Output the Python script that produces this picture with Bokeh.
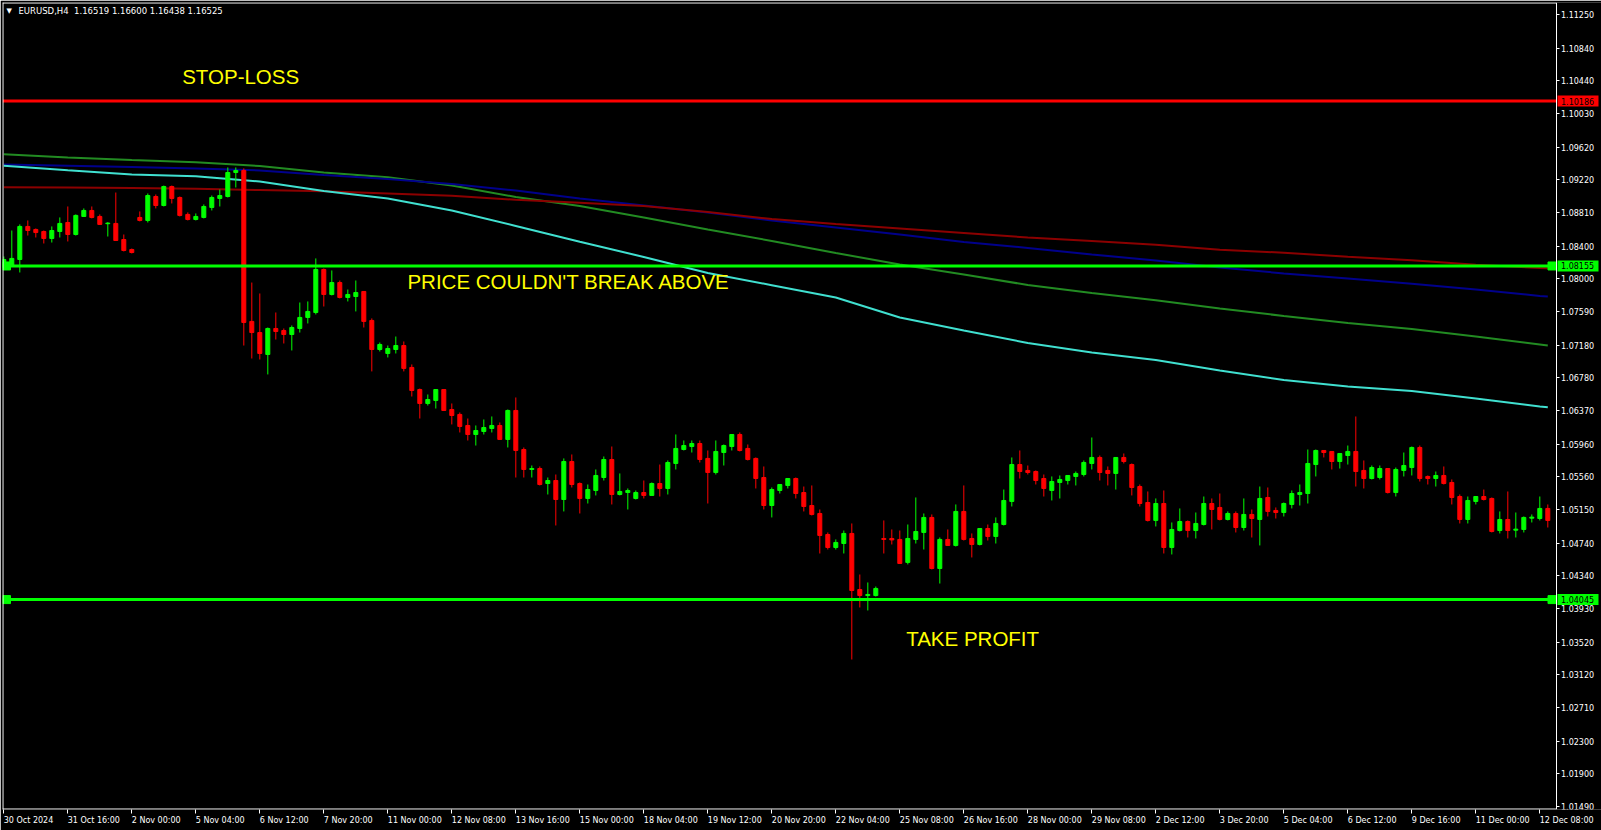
from bokeh.plotting import figure
from bokeh.models import (Span, Label, FixedTicker, Range1d, ColumnDataSource,
                          PrintfTickFormatter, LinearAxis)
from bokeh.core.properties import value
from bokeh.embed import file_html
from bokeh.resources import INLINE

# ---------------- data ----------------
chart_title = "EURUSD,H4\u00a0\u00a01.16519 1.16600 1.16438 1.16525"

open_ = [
    1.08137, 1.08161, 1.08235, 1.08642, 1.08605, 1.08580, 1.08494, 1.08580, 1.08691, 1.08543,
    1.08765, 1.08839, 1.08765, 1.08676, 1.08679, 1.08481, 1.08358, 1.08753, 1.08716, 1.09011,
    1.08900, 1.09134, 1.08999, 1.08790, 1.08728, 1.08753, 1.08876, 1.08987, 1.09011, 1.09307,
    1.09332, 1.07472, 1.07335, 1.07065, 1.07385, 1.07360, 1.07311, 1.07385, 1.07521, 1.07582,
    1.08112, 1.07804, 1.07951, 1.07767, 1.07779, 1.07841, 1.07484, 1.07126, 1.07077, 1.07126,
    1.07175, 1.06905, 1.06633, 1.06461, 1.06498, 1.06633, 1.06387, 1.06326, 1.06190, 1.06079,
    1.06116, 1.06153, 1.06190, 1.06018, 1.06375, 1.05894, 1.05648, 1.05660, 1.05475, 1.05512,
    1.05278, 1.05746, 1.05475, 1.05291, 1.05389, 1.05549, 1.05771, 1.05340, 1.05364, 1.05291,
    1.05364, 1.05328, 1.05475, 1.05414, 1.05722, 1.05894, 1.05931, 1.05968, 1.05784, 1.05611,
    1.05857, 1.05931, 1.06079, 1.05907, 1.05784, 1.05549, 1.05204, 1.05389, 1.05451, 1.05537,
    1.05364, 1.05204, 1.05106, 1.04847, 1.04687, 1.04736, 1.04860, 1.04169, 1.04095, 1.04095,
    1.04798, 1.04798, 1.04786, 1.04503, 1.04786, 1.04872, 1.05057, 1.04428, 1.04786, 1.04712,
    1.05131, 1.04798, 1.04724, 1.04921, 1.04823, 1.04970, 1.05254, 1.05709, 1.05636, 1.05623,
    1.05537, 1.05389, 1.05488, 1.05512, 1.05562, 1.05586, 1.05722, 1.05796, 1.05636, 1.05599,
    1.05796, 1.05709, 1.05438, 1.05241, 1.05020, 1.05229, 1.04687, 1.04896, 1.05007, 1.04896,
    1.04970, 1.05229, 1.05180, 1.05032, 1.05106, 1.04933, 1.05094, 1.05032, 1.05303, 1.05143,
    1.05118, 1.05217, 1.05340, 1.05352, 1.05709, 1.05882, 1.05870, 1.05746, 1.05820, 1.05870,
    1.05636, 1.05537, 1.05549, 1.05660, 1.05364, 1.05636, 1.05672, 1.05919, 1.05562, 1.05537,
    1.05574, 1.05488, 1.05315, 1.05032, 1.05254, 1.05315, 1.05291, 1.04896, 1.05032, 1.04900,
    1.04909, 1.05048, 1.05044, 1.05168]

high = [
    1.08272, 1.08592, 1.08667, 1.08716, 1.08617, 1.08592, 1.08642, 1.08753, 1.08888, 1.08790,
    1.08864, 1.08888, 1.08790, 1.08695, 1.09060, 1.08543, 1.08370, 1.08827, 1.09048, 1.09036,
    1.09146, 1.09146, 1.09011, 1.08815, 1.08802, 1.08913, 1.09023, 1.09097, 1.09369, 1.09369,
    1.09357, 1.07951, 1.07816, 1.07397, 1.07582, 1.07385, 1.07422, 1.07705, 1.07718, 1.08248,
    1.08124, 1.08100, 1.07976, 1.07865, 1.07976, 1.07841, 1.07509, 1.07212, 1.07175, 1.07286,
    1.07225, 1.06942, 1.06645, 1.06572, 1.06633, 1.06633, 1.06461, 1.06350, 1.06276, 1.06190,
    1.06264, 1.06301, 1.06227, 1.06387, 1.06535, 1.05919, 1.05697, 1.05685, 1.05549, 1.05586,
    1.05784, 1.05833, 1.05488, 1.05463, 1.05648, 1.05808, 1.05931, 1.05599, 1.05414, 1.05389,
    1.05512, 1.05488, 1.05709, 1.05759, 1.06079, 1.06005, 1.06005, 1.06005, 1.05882, 1.06005,
    1.05956, 1.06079, 1.06104, 1.05956, 1.05796, 1.05685, 1.05426, 1.05463, 1.05537, 1.05549,
    1.05438, 1.05451, 1.05155, 1.04872, 1.04786, 1.04896, 1.04983, 1.04354, 1.04256, 1.04206,
    1.05020, 1.04909, 1.04896, 1.04970, 1.05303, 1.05106, 1.05094, 1.04810, 1.04909, 1.05217,
    1.05451, 1.04860, 1.04921, 1.04970, 1.05057, 1.05401, 1.05796, 1.05882, 1.05697, 1.05636,
    1.05586, 1.05562, 1.05574, 1.05574, 1.05623, 1.05759, 1.06042, 1.05820, 1.05685, 1.05796,
    1.05845, 1.05722, 1.05463, 1.05377, 1.05291, 1.05389, 1.04995, 1.05168, 1.05020, 1.05118,
    1.05315, 1.05291, 1.05352, 1.05131, 1.05131, 1.05291, 1.05155, 1.05438, 1.05426, 1.05180,
    1.05241, 1.05389, 1.05463, 1.05894, 1.05894, 1.05882, 1.05870, 1.05845, 1.05943, 1.06301,
    1.05759, 1.05697, 1.05697, 1.05660, 1.05672, 1.05857, 1.05931, 1.05943, 1.05574, 1.05623,
    1.05685, 1.05525, 1.05340, 1.05315, 1.05315, 1.05401, 1.05303, 1.05131, 1.05377, 1.05118,
    1.05069, 1.05094, 1.05315, 1.05217]

low = [
    1.08124, 1.08149, 1.08075, 1.08530, 1.08506, 1.08432, 1.08444, 1.08506, 1.08457, 1.08530,
    1.08760, 1.08741, 1.08660, 1.08518, 1.08465, 1.08334, 1.08309, 1.08704, 1.08691, 1.08864,
    1.08888, 1.08925, 1.08765, 1.08716, 1.08716, 1.08741, 1.08839, 1.08888, 1.08999, 1.09122,
    1.07175, 1.07015, 1.07003, 1.06819, 1.07249, 1.07200, 1.07114, 1.07335, 1.07447, 1.07558,
    1.07656, 1.07792, 1.07755, 1.07718, 1.07595, 1.07397, 1.06856, 1.07102, 1.07028, 1.07077,
    1.06856, 1.06547, 1.06276, 1.06436, 1.06399, 1.06375, 1.06203, 1.06104, 1.06005, 1.05943,
    1.06079, 1.06104, 1.06018, 1.05919, 1.05549, 1.05549, 1.05549, 1.05451, 1.05340, 1.04958,
    1.05131, 1.05426, 1.05106, 1.05229, 1.05328, 1.05512, 1.05217, 1.05328, 1.05155, 1.05278,
    1.05291, 1.05328, 1.05315, 1.05340, 1.05648, 1.05882, 1.05857, 1.05734, 1.05229, 1.05586,
    1.05697, 1.05882, 1.05870, 1.05759, 1.05414, 1.05155, 1.05057, 1.05352, 1.05414, 1.05291,
    1.05131, 1.05081, 1.04613, 1.04662, 1.04662, 1.04613, 1.03307, 1.03948, 1.03911, 1.04083,
    1.04613, 1.04724, 1.04490, 1.04478, 1.04736, 1.04662, 1.04416, 1.04243, 1.04712, 1.04699,
    1.04773, 1.04564, 1.04712, 1.04773, 1.04736, 1.04958, 1.05192, 1.05537, 1.05586, 1.05463,
    1.05315, 1.05266, 1.05291, 1.05463, 1.05451, 1.05562, 1.05648, 1.05512, 1.05451, 1.05401,
    1.05722, 1.05328, 1.05192, 1.05007, 1.04946, 1.04613, 1.04601, 1.04884, 1.04810, 1.04798,
    1.04958, 1.04909, 1.05020, 1.05020, 1.04872, 1.04896, 1.04810, 1.04712, 1.05069, 1.05044,
    1.05069, 1.05168, 1.05204, 1.05229, 1.05562, 1.05796, 1.05648, 1.05660, 1.05709, 1.05438,
    1.05414, 1.05525, 1.05525, 1.05352, 1.05315, 1.05562, 1.05574, 1.05500, 1.05463, 1.05438,
    1.05463, 1.05217, 1.04983, 1.04983, 1.05217, 1.05266, 1.04872, 1.04860, 1.04798, 1.04810,
    1.04872, 1.04995, 1.05020, 1.04933]

close = [
    1.08235, 1.08248, 1.08642, 1.08592, 1.08567, 1.08494, 1.08592, 1.08679, 1.08543, 1.08778,
    1.08839, 1.08753, 1.08667, 1.08683, 1.08469, 1.08346, 1.08321, 1.08716, 1.09023, 1.08900,
    1.09134, 1.08987, 1.08778, 1.08728, 1.08765, 1.08888, 1.08999, 1.09023, 1.09307, 1.09332,
    1.07459, 1.07335, 1.07077, 1.07385, 1.07348, 1.07311, 1.07397, 1.07521, 1.07595, 1.08112,
    1.07804, 1.07951, 1.07767, 1.07804, 1.07828, 1.07472, 1.07126, 1.07188, 1.07138, 1.07175,
    1.06893, 1.06621, 1.06461, 1.06510, 1.06633, 1.06375, 1.06313, 1.06178, 1.06079, 1.06128,
    1.06165, 1.06190, 1.06018, 1.06375, 1.05882, 1.05648, 1.05660, 1.05463, 1.05512, 1.05278,
    1.05746, 1.05463, 1.05291, 1.05401, 1.05574, 1.05771, 1.05340, 1.05377, 1.05389, 1.05364,
    1.05328, 1.05475, 1.05414, 1.05734, 1.05907, 1.05943, 1.05968, 1.05771, 1.05611, 1.05870,
    1.05943, 1.06079, 1.05882, 1.05771, 1.05537, 1.05204, 1.05401, 1.05463, 1.05537, 1.05352,
    1.05192, 1.05094, 1.04835, 1.04687, 1.04749, 1.04860, 1.04157, 1.04095, 1.04108, 1.04182,
    1.04786, 1.04780, 1.04490, 1.04798, 1.04884, 1.05057, 1.04428, 1.04786, 1.04712, 1.05131,
    1.04786, 1.04724, 1.04921, 1.04823, 1.04983, 1.05266, 1.05709, 1.05623, 1.05611, 1.05512,
    1.05414, 1.05500, 1.05525, 1.05574, 1.05599, 1.05734, 1.05796, 1.05611, 1.05599, 1.05796,
    1.05746, 1.05426, 1.05229, 1.05020, 1.05229, 1.04687, 1.04909, 1.05007, 1.04896, 1.04983,
    1.05229, 1.05155, 1.05032, 1.05106, 1.04933, 1.05094, 1.05044, 1.05291, 1.05131, 1.05118,
    1.05229, 1.05352, 1.05364, 1.05722, 1.05882, 1.05857, 1.05746, 1.05845, 1.05870, 1.05623,
    1.05537, 1.05672, 1.05660, 1.05364, 1.05648, 1.05697, 1.05919, 1.05537, 1.05537, 1.05574,
    1.05475, 1.05303, 1.05032, 1.05266, 1.05315, 1.05278, 1.04884, 1.05032, 1.04896, 1.04913,
    1.05057, 1.05061, 1.05168, 1.05020]

# moving averages, read at these bar positions
ma_bars = [0, 8, 16, 24, 32, 40, 48, 56, 64, 72, 80, 88, 96, 104, 112, 120,
           128, 136, 144, 152, 160, 168, 176, 184, 192, 193]
ma_green = [1.09532, 1.09492, 1.09461, 1.09434, 1.09387, 1.09307, 1.09249, 1.09147, 1.09005,
            1.08894, 1.08753, 1.08605, 1.08463, 1.08315, 1.08174, 1.08050, 1.07921, 1.07822,
            1.07734, 1.07631, 1.07539, 1.07453, 1.07379, 1.07286, 1.07188, 1.07175]
ma_blue = [1.09405, 1.09389, 1.09375, 1.09356, 1.09332, 1.09276, 1.09227, 1.09165, 1.09085,
           1.08987, 1.08900, 1.08814, 1.08716, 1.08629, 1.08543, 1.08451, 1.08377, 1.08297,
           1.08223, 1.08137, 1.08063, 1.08001, 1.07936, 1.07866, 1.07786, 1.07779]
ma_turquoise = [1.09389, 1.09335, 1.09282, 1.09261, 1.09196, 1.09079, 1.08987, 1.08839, 1.08648,
                1.08453, 1.08266, 1.08069, 1.07918, 1.07767, 1.07521, 1.07360, 1.07206, 1.07089,
                1.06997, 1.06868, 1.06750, 1.06671, 1.06615, 1.06523, 1.06424, 1.06415]
ma_maroon = [1.09126, 1.09122, 1.09116, 1.09107, 1.09091, 1.09075, 1.09048, 1.09020, 1.08971,
             1.08934, 1.08894, 1.08820, 1.08734, 1.08672, 1.08617, 1.08562, 1.08506, 1.08463,
             1.08417, 1.08356, 1.08318, 1.08270, 1.08226, 1.08170, 1.08130, 1.08128]

# x axis (time) labels every 8 H4 bars
time_tick_bars = [0, 8, 16, 24, 32, 40, 48, 56, 64, 72, 80, 88, 96, 104, 112, 120,
                  128, 136, 144, 152, 160, 168, 176, 184, 192]
time_labels = ["30 Oct 2024", "31 Oct 16:00", "2 Nov 00:00", "5 Nov 04:00", "6 Nov 12:00",
               "7 Nov 20:00", "11 Nov 00:00", "12 Nov 08:00", "13 Nov 16:00", "15 Nov 00:00",
               "18 Nov 04:00", "19 Nov 12:00", "20 Nov 20:00", "22 Nov 04:00", "25 Nov 08:00",
               "26 Nov 16:00", "28 Nov 00:00", "29 Nov 08:00", "2 Dec 12:00", "3 Dec 20:00",
               "5 Dec 04:00", "6 Dec 12:00", "9 Dec 16:00", "11 Dec 00:00", "12 Dec 08:00"]

price_ticks = [1.11250, 1.10840, 1.10440, 1.10030, 1.09620, 1.09220, 1.08810, 1.08400,
               1.08000, 1.07590, 1.07180, 1.06780, 1.06370, 1.05960, 1.05560, 1.05150,
               1.04740, 1.04340, 1.03930, 1.03520, 1.03120, 1.02710, 1.02300, 1.01900, 1.01490]

stop_loss = 1.10186
resistance = 1.08155
take_profit = 1.04045

annotations = [
    ("STOP-LOSS", 22.3, 1.10490),
    ("PRICE COULDN'T BREAK ABOVE", 50.45, 1.07964),
    ("TAKE PROFIT", 112.8, 1.03566),
]

# ---------------- layout / style ----------------
W, H = 1601, 830
BORDER_L, BORDER_T, BORDER_R, BORDER_B = 2, 2, 0, 21
FRAME_W = W - BORDER_L - BORDER_R
FRAME_H = H - BORDER_T - BORDER_B
PX = 8.0                                  # pixels per bar
X_START = -0.1625
X_END = X_START + FRAME_W / PX
X_AXIS = X_START + 1553.5 / PX            # where the price axis line sits
Y_START, Y_END = 1.01459, 1.11401
PY = FRAME_H / (Y_END - Y_START)          # pixels per price unit

BULL = "#00ff00"
BEAR = "#ff0000"
WHITE = "#ffffff"
FONT = "DejaVu Sans"

p = figure(width=W, height=H, output_backend="svg", toolbar_location=None,
           x_range=Range1d(X_START, X_END), y_range=Range1d(Y_START, Y_END),
           y_axis_location=None,
           min_border_left=BORDER_L, min_border_top=BORDER_T,
           min_border_right=BORDER_R, min_border_bottom=BORDER_B,
           background_fill_color="#000000", border_fill_color="#000000",
           outline_line_color=None)
p.grid.visible = False

# time axis: tick marks at the bars ...
xa = p.xaxis[0]
xa.ticker = FixedTicker(ticks=time_tick_bars, minor_ticks=[])
xa.major_label_overrides = {b: "" for b in time_tick_bars}
xa.major_label_text_font_size = "0px"
xa.major_label_standoff = 0
xa.axis_line_color = None
xa.major_tick_line_color = WHITE
xa.major_tick_in = 0
xa.major_tick_out = 4
xa.minor_tick_line_color = None

# ... and labels that start at each tick (MT4 style, left aligned)
CHAR_EM = {**{d: 0.636 for d in "0123456789"}, " ": 0.318, ":": 0.337, "O": 0.787,
           "c": 0.550, "t": 0.392, "N": 0.748, "o": 0.612, "v": 0.592, "D": 0.770, "e": 0.615}


def text_width(s, size=8.0):
    return sum(CHAR_EM.get(ch, 0.6) for ch in s) * size


label_pos = [b + (text_width(t) / 2) / PX for b, t in zip(time_tick_bars, time_labels)]
xl = LinearAxis(ticker=FixedTicker(ticks=label_pos, minor_ticks=[]),
                major_label_overrides={pos: t for pos, t in zip(label_pos, time_labels)},
                axis_line_color=None, major_tick_line_color=None, minor_tick_line_color=None,
                major_tick_in=0, major_tick_out=0, major_label_standoff=2,
                major_label_text_color=WHITE, major_label_text_font=FONT,
                major_label_text_font_size="8px")
p.add_layout(xl, "below")

# price axis, drawn at the right edge of the chart area
ya = LinearAxis(fixed_location=X_AXIS,
                ticker=FixedTicker(ticks=price_ticks, minor_ticks=[]),
                formatter=PrintfTickFormatter(format="%.5f"),
                axis_line_color=WHITE, major_tick_line_color=WHITE, minor_tick_line_color=None,
                major_tick_in=0, major_tick_out=3, major_label_standoff=2,
                major_label_text_color=WHITE, major_label_text_font=FONT,
                major_label_text_font_size="8px")
p.add_layout(ya, "right")

# chart border (left, top, bottom)
p.add_layout(Span(location=X_START + 0.5 / PX, dimension="height", line_color=WHITE, line_width=1))
p.segment(x0=[X_START, X_START], x1=[X_AXIS, X_AXIS],
          y0=[Y_END - 0.5 / PY, Y_START + 0.5 / PY], y1=[Y_END - 0.5 / PY, Y_START + 0.5 / PY],
          line_color=WHITE, line_width=1)

# moving averages
p.line(ma_bars, ma_green, line_color="#228b22", line_width=2)
p.line(ma_bars, ma_blue, line_color="#00008b", line_width=2)
p.line(ma_bars, ma_maroon, line_color="#8b0000", line_width=2)
p.line(ma_bars, ma_turquoise, line_color="#40e0d0", line_width=2)

# candles
bars = list(range(len(open_)))
colors = [BULL if c >= o else BEAR for o, c in zip(open_, close)]
src = ColumnDataSource(dict(
    x=bars, high=high, low=low,
    top=[max(o, c) for o, c in zip(open_, close)],
    bottom=[min(o, c) for o, c in zip(open_, close)],
    color=colors))
p.segment(x0="x", y0="low", x1="x", y1="high", source=src, line_color="color", line_width=1)
p.vbar(x="x", width=0.5, top="top", bottom="bottom", source=src,
       fill_color="color", line_color="color", line_width=1)

# horizontal levels (up to the price axis)
levels = [stop_loss, resistance, take_profit]
level_colors = [BEAR, BULL, BULL]
p.segment(x0=[X_START] * 3, x1=[X_AXIS] * 3, y0=levels, y1=levels,
          line_color=level_colors, line_width=3)

# selection handles on the green levels
hx = [X_START + 4 / PX, X_AXIS - 4 / PX]
p.scatter(x=hx + hx, y=[resistance, resistance, take_profit, take_profit],
          marker="square", size=8, fill_color=BULL, line_color=BULL)

# price tags on the price axis
tag_x = X_AXIS + (1.5 + 20.5) / PX
p.rect(x=[tag_x] * 3, y=levels, width=41, height=11, width_units="screen",
       height_units="screen", fill_color=level_colors, line_color=None)
p.text(x=[X_AXIS + 5 / PX] * 3, y=levels, text=["%.5f" % v for v in levels],
       text_color="#000000", text_font=value(FONT), text_font_size="8px",
       text_align="left", text_baseline="middle")

# yellow notes
for txt, bx, py in annotations:
    p.add_layout(Label(x=bx, y=py, text=txt, text_color="#ffff00",
                       text_font="Liberation Sans", text_font_size="20.5px",
                       text_align="left", text_baseline="middle"))

# title
title_y = Y_END - 8 / PY
p.add_layout(Label(x=X_START + 4 / PX, y=title_y, text="\u25bc",
                   text_color=WHITE, text_font=FONT, text_font_size="7px",
                   text_align="left", text_baseline="middle"))
p.add_layout(Label(x=X_START + 16 / PX, y=title_y, text=chart_title,
                   text_color=WHITE, text_font=FONT, text_font_size="8.5px",
                   text_align="left", text_baseline="middle"))

open("out.html", "w").write(file_html(p, INLINE))
